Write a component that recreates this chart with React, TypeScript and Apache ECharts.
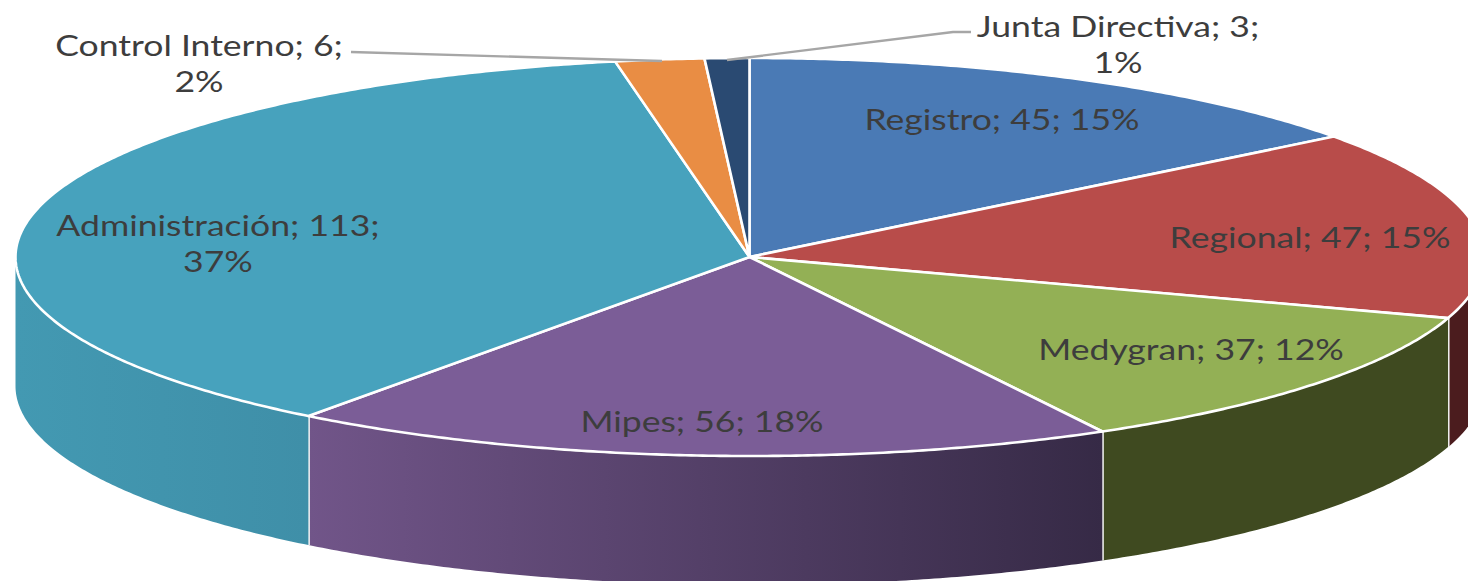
import React, { useEffect, useRef } from "react";
import * as echarts from "echarts";

const categories = ["Registro", "Regional", "Medygran", "Mipes", "Administración", "Control Interno", "Junta Directiva"];
const values = [45, 47, 37, 56, 113, 6, 3];
const topColors = ["#4a7ab5", "#b84c4a", "#93b055", "#7b5d97", "#47a2bd", "#e98d44", "#2a4a72"];
const sideFrom = ["#2c4a70", "#4b1c1e", "#3f4a20", "#715589", "#4399b2", "#8c5428", "#1a2c44"];
const sideTo = ["#2c4a70", "#4b1c1e", "#3f4a20", "#362a46", "#3f8fa8", "#8c5428", "#1a2c44"];
const labelWraps = [false, false, false, false, true, true, true];

const CX = 749.5, CY = 257, RX = 734, RY = 199, DEPTH = 129;
const FONT_SIZE = 28, SCALE_X = 1.27, LINE_HEIGHT = 36;
const labelCenters = [[1002, 119], [1310, 237], [1191, 349], [702, 421], [218, 243], [199, 63], [1118, 44]];
const leaders: (number[][] | null)[] = [
  null, null, null, null, null,
  [[351, 52], [662, 61]],
  [[727, 60], [953, 32], [971, 32]],
];

const total = values.reduce((a, b) => a + b, 0);
const startAngle = (i: number) => (values.slice(0, i).reduce((a, b) => a + b, 0) / total) * 2 * Math.PI;
const pt = (a: number, dy = 0) => [CX + RX * Math.sin(a), CY - RY * Math.cos(a) + dy];

function arc(a0: number, a1: number, dy = 0) {
  const n = Math.max(2, Math.ceil((a1 - a0) / 0.008));
  const out: number[][] = [];
  for (let k = 0; k <= n; k++) out.push(pt(a0 + ((a1 - a0) * k) / n, dy));
  return out;
}

function renderSide(params: any) {
  const i = params.dataIndex;
  const a0 = Math.max(startAngle(i), Math.PI / 2);
  const a1 = Math.min(startAngle(i + 1), (3 * Math.PI) / 2);
  if (a1 <= a0) return { type: "group", children: [] };
  const points = [...arc(a0, a1), ...arc(a0, a1, DEPTH).reverse()];
  const children: any[] = [{
    type: "polygon",
    shape: { points },
    style: {
      fill: new echarts.graphic.LinearGradient(0, 0, 1, 0, [
        { offset: 0, color: sideFrom[i] },
        { offset: 1, color: sideTo[i] },
      ]),
    },
  }];
  if (startAngle(i + 1) < (3 * Math.PI) / 2) {
    const p = pt(a1);
    children.push({
      type: "line",
      shape: { x1: p[0], y1: p[1], x2: p[0], y2: p[1] + DEPTH },
      style: { stroke: "#f4f4f4", lineWidth: 3 },
    });
  }
  return { type: "group", children };
}

function renderTop(params: any) {
  const i = params.dataIndex;
  const points = [[CX, CY], ...arc(startAngle(i), startAngle(i + 1))];
  return {
    type: "polygon",
    shape: { points },
    style: { fill: topColors[i], stroke: "#ffffff", lineWidth: 2.6, lineJoin: "round" },
  };
}

function renderLabel(params: any, api: any) {
  const i = params.dataIndex;
  const v = api.value(0);
  const pct = Math.round((v / total) * 100);
  const text = `${categories[i]}; ${v};${labelWraps[i] ? "\n" : " "}${pct}%`;
  const children: any[] = [];
  const lead = leaders[i];
  if (lead) {
    children.push({
      type: "polyline",
      shape: { points: lead },
      style: { stroke: "#a6a6a6", lineWidth: 2.4, fill: "none" },
    });
  }
  children.push({
    type: "text",
    x: labelCenters[i][0],
    y: labelCenters[i][1],
    scaleX: SCALE_X,
    style: {
      text,
      fill: "#3d3d3d",
      fontFamily: "Lato",
      fontSize: FONT_SIZE,
      lineHeight: LINE_HEIGHT,
      align: "center",
      verticalAlign: "middle",
    },
  });
  return { type: "group", children };
}

export default function App() {
  const ref = useRef<HTMLDivElement>(null);
  useEffect(() => {
    document.body.style.margin = "0";
    const chart = echarts.init(ref.current!, null, { renderer: "svg" });
    const base = { type: "custom", coordinateSystem: "none", silent: true, data: values.map((v) => [v]) };
    chart.setOption({
      animation: false,
      backgroundColor: "#ffffff",
      series: [
        { ...base, name: "side", z: 1, renderItem: renderSide },
        { ...base, name: "top", z: 2, renderItem: renderTop },
        { ...base, name: "label", z: 3, renderItem: renderLabel },
      ],
    });
    return () => chart.dispose();
  }, []);
  return <div ref={ref} style={{ width: 1468, height: 581, overflow: "hidden" }} />;
}
